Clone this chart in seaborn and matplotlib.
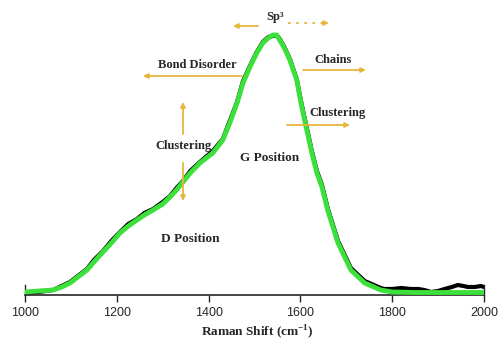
import numpy as np
import pandas as pd
import matplotlib
matplotlib.use("Agg")
import matplotlib.pyplot as plt
import seaborn as sns

# ---- data (intensity in arbitrary units) ----
shift_fit = [1000, 1030, 1061, 1080, 1098, 1115, 1135, 1150, 1170, 1190, 1207, 1225, 1244,
             1260, 1279, 1300, 1316, 1330, 1344, 1360, 1381, 1409, 1431, 1446, 1462, 1475,
             1490, 1505, 1518, 1530, 1540, 1548, 1555, 1565, 1577, 1592, 1603, 1614, 1625,
             1636, 1647, 1660, 1682, 1710, 1740, 1775, 1800, 1850, 1900, 1950, 2000]
fit_intensity = [3, 4, 5, 8, 12, 18, 25, 33, 43, 53, 62, 69, 75,
                 80, 85, 91, 98, 105, 113, 122, 132, 142, 155, 172, 192, 212,
                 228, 242, 252, 257, 260, 260, 255, 247, 235, 215, 188, 165, 142,
                 122, 108, 84, 52, 25, 12, 5, 3, 2.5, 2.5, 2.5, 2.5]

shift_raw = [1000, 1030, 1061, 1080, 1098, 1115, 1135, 1150, 1170, 1190, 1207, 1225, 1244,
             1260, 1279, 1300, 1316, 1330, 1344, 1360, 1381, 1409, 1431, 1446, 1462, 1475,
             1490, 1505, 1518, 1530, 1540, 1548, 1555, 1565, 1577, 1592, 1603, 1614, 1625,
             1636, 1647, 1660, 1682, 1710, 1740, 1775, 1783, 1800, 1820, 1840, 1857, 1870,
             1885, 1900, 1914, 1930, 1943, 1955, 1965, 1980, 1993, 2000]
raw_intensity = [2, 3, 5, 9, 13, 19, 26, 35, 44, 55, 63, 71, 76,
                 82, 86, 93, 99, 107, 114, 124, 133, 144, 156, 174, 193, 214,
                 229, 243, 253, 258, 259, 260, 256, 248, 236, 216, 190, 167, 144,
                 124, 110, 86, 54, 27, 14, 7, 6, 6, 7, 6, 6, 5,
                 3, 4, 6, 8, 10, 9, 8, 8, 9, 8]

tick_values = [1000, 1200, 1400, 1600, 1800, 2000]

gold = "#E7B53C"
green = "#3BE03B"

W, H = 501, 345
sns.set_style("white")
plt.rcParams["font.family"] = ["Liberation Sans", "DejaVu Sans"]
plt.rcParams["mathtext.fontset"] = "custom"
plt.rcParams["mathtext.rm"] = "Liberation Serif:bold"
plt.rcParams["mathtext.bf"] = "Liberation Serif:bold"

fig = plt.figure(figsize=(W / 100, H / 100), dpi=100)
ax = fig.add_axes([25 / W, 50 / H, 459 / W, 295 / H])

raw = pd.DataFrame({"shift": shift_raw, "intensity": raw_intensity})
fit = pd.DataFrame({"shift": shift_fit, "intensity": fit_intensity})
sns.lineplot(data=raw, x="shift", y="intensity", color="black", lw=3.0, ax=ax,
             estimator=None, sort=False, zorder=2)
sns.lineplot(data=fit, x="shift", y="intensity", color=green, lw=3.5, ax=ax,
             estimator=None, sort=False, zorder=3)

ax.set_xlim(1000, 2000)
ax.set_ylim(0, 295)
ax.set_xticks(tick_values)
ax.set_xticklabels([str(t) for t in tick_values], fontsize=9)
ax.set_xticks(np.arange(1100, 2000, 200), minor=True)
ax.set_yticks([])
ax.tick_params(axis="x", which="major", direction="out", length=5, width=1, pad=4)
ax.tick_params(axis="x", which="minor", direction="out", length=3, width=1)
ax.tick_params(axis="x", bottom=True)
ax.spines["top"].set_visible(False)
ax.spines["bottom"].set_linewidth(1.2)
ax.spines["left"].set_bounds(0, 10)
ax.spines["right"].set_bounds(0, 10)
ax.spines["left"].set_linewidth(1)
ax.spines["right"].set_linewidth(1)
ax.set_xlabel("")
ax.set_ylabel("")


def fp(px, py):
    return (px / W, 1 - py / H)


tfont = dict(family="Liberation Serif", weight="bold", fontsize=9, ha="center", va="center")
fig.text(*fp(275, 17), "Sp³", **tfont)
fig.text(*fp(197, 65), "Bond Disorder", **tfont)
fig.text(*fp(333, 60), "Chains", **tfont)
fig.text(*fp(338, 113), "Clustering", **tfont)
fig.text(*fp(183, 146), "Clustering", **tfont)
fig.text(*fp(270, 158), "G Position", **dict(tfont, fontsize=9.5))
fig.text(*fp(190, 239), "D Position", **dict(tfont, fontsize=9.5))
fig.text(*fp(257, 332), r"Raman Shift (cm$^{-1}$)", family="Liberation Serif",
         weight="bold", fontsize=9.5, ha="center", va="center")


def arrow(tail, head, ls="-"):
    ap = dict(arrowstyle="-|>", color=gold, lw=1.3, mutation_scale=7,
              shrinkA=0, shrinkB=0, linestyle=ls)
    fig.add_artist(matplotlib.patches.FancyArrowPatch(
        fp(*tail), fp(*head), transform=fig.transFigure, **ap))


arrow((258, 26), (233, 26))
arrow((242, 76), (143, 76))
arrow((303, 70), (366, 70))
arrow((287, 125), (350, 125))
arrow((183, 134), (183, 102))
arrow((183, 163), (183, 201))
# dotted Sp3 arrow
fig.add_artist(matplotlib.lines.Line2D([288 / W, 322 / W], [1 - 23 / H, 1 - 23 / H],
                                       transform=fig.transFigure, color=gold, lw=1.3,
                                       linestyle=(0, (1.5, 3))))
arrow((322, 23), (329, 23))

fig.savefig("out.png", dpi=100)
